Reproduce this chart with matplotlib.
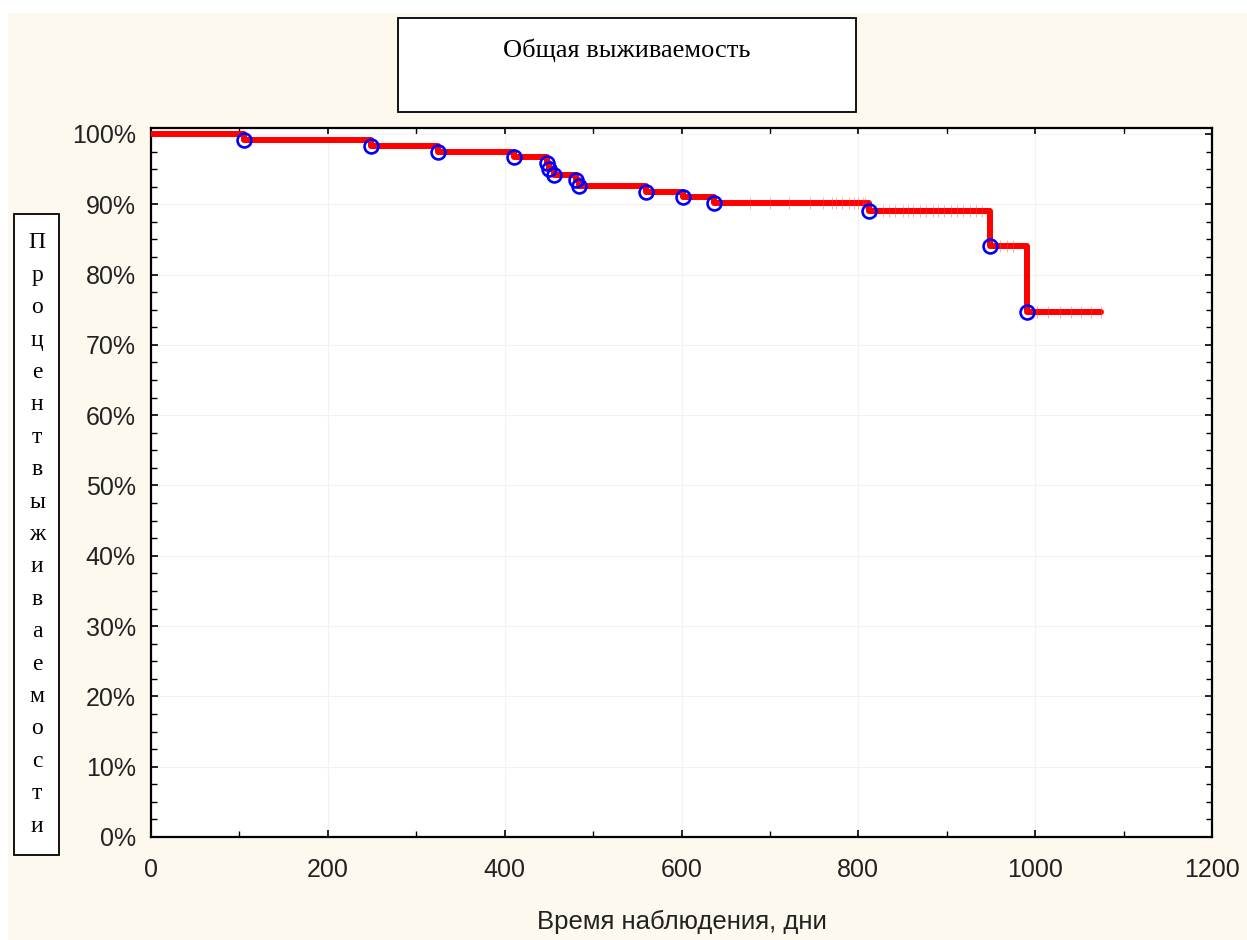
import matplotlib.pyplot as plt
from matplotlib.patches import Rectangle
from matplotlib.ticker import MultipleLocator, FuncFormatter

# event times (days) and survival after each event (%)
event_t = [105, 249, 325, 411, 448, 450, 456, 481, 484, 560, 602, 637, 812, 949, 991]
event_s = [99.1, 98.3, 97.5, 96.7, 95.9, 95.0, 94.2, 93.4, 92.6, 91.8, 91.0, 90.2, 89.0, 84.1, 74.7]
last_t = 1075

# censored observations (days)
cens_t = [678, 700, 722, 745, 760, 770, 775, 782, 790, 795, 800, 805, 808,
          820, 828, 835, 842, 850, 856, 862, 870, 876, 884, 890, 897, 905,
          912, 918, 926, 933, 940, 960, 968, 975,
          1002, 1015, 1028, 1040, 1052, 1063, 1075]

title = "Общая выживаемость"
ylabel = "Процент выживаемости"
xlabel = "Время наблюдения, дни"

fig = plt.figure(figsize=(12.47, 9.40), dpi=100, facecolor="white")
fig.patches.append(Rectangle((8/1247, 0), 1 - 8/1247, 1 - 13/940,
                             transform=fig.transFigure, facecolor="#fdf9ef",
                             edgecolor="none", zorder=-10))

ax = fig.add_axes([151/1247, 1 - 837/940, (1212 - 151)/1247, (837 - 128)/940])
ax.set_facecolor("white")

# step curve
xs = [0] + event_t + [last_t]
ys = [100] + event_s + [event_s[-1]]
ax.step(xs, ys, where="post", color="#ff0000", lw=4.3, solid_capstyle="round",
        solid_joinstyle="round", zorder=3)

# censoring ticks
def surv_at(t):
    s = 100
    for et, es in zip(event_t, event_s):
        if t >= et:
            s = es
    return s

ax.plot(cens_t, [surv_at(t) for t in cens_t], ls="none", marker="|",
        ms=9, mew=0.6, color="#ff4040", alpha=0.5, zorder=3)

ax.plot(event_t, event_s, ls="none", marker="o", ms=10, mfc="none",
        mec="#0000ff", mew=1.9, zorder=4)

ax.set_xlim(0, 1200)
ax.set_ylim(0, 100.85)
ax.xaxis.set_major_locator(MultipleLocator(200))
ax.xaxis.set_minor_locator(MultipleLocator(100))
ax.yaxis.set_major_locator(MultipleLocator(10))
ax.yaxis.set_minor_locator(MultipleLocator(2.5))
ax.yaxis.set_major_formatter(FuncFormatter(lambda v, p: f"{v:.0f}%"))
ax.tick_params(which="both", direction="in", top=True, right=True, color="black")
ax.tick_params(which="major", length=5, width=1.2, labelsize=18, pad=11)
ax.tick_params(axis="x", which="major", pad=15)
ax.tick_params(which="minor", length=4, width=1.0)
for lab in ax.get_xticklabels() + ax.get_yticklabels():
    lab.set_family("Liberation Sans")
    lab.set_color("#222222")
ax.grid(True, which="major", color="#f2f2f2", lw=0.8)
ax.set_axisbelow(True)
for sp in ax.spines.values():
    sp.set_linewidth(1.6)

ax.set_xlabel(xlabel, fontsize=18.5, family="Liberation Sans", color="#222222", labelpad=20)

# title box
fig.patches.append(Rectangle((398/1247, 1 - 112/940), (856 - 398)/1247, (112 - 18)/940,
                             transform=fig.transFigure, facecolor="white",
                             edgecolor="black", lw=1.3, zorder=5))
fig.text(627/1247, 1 - 50/940, title, ha="center", va="center", fontsize=19,
         family="Liberation Serif", zorder=6)

# y label box with stacked letters
fig.patches.append(Rectangle((14/1247, 1 - 855/940), (59 - 14)/1247, (855 - 214)/940,
                             transform=fig.transFigure, facecolor="white",
                             edgecolor="black", lw=1.3, zorder=5))
letters = [c for c in ylabel if c != " "]
for i, c in enumerate(letters):
    fig.text(37/1247, 1 - (243 + i * 32.4)/940, c, ha="center", va="center",
             fontsize=17, family="Liberation Serif", zorder=6)

fig.savefig("out.png", dpi=100, facecolor=fig.get_facecolor())
